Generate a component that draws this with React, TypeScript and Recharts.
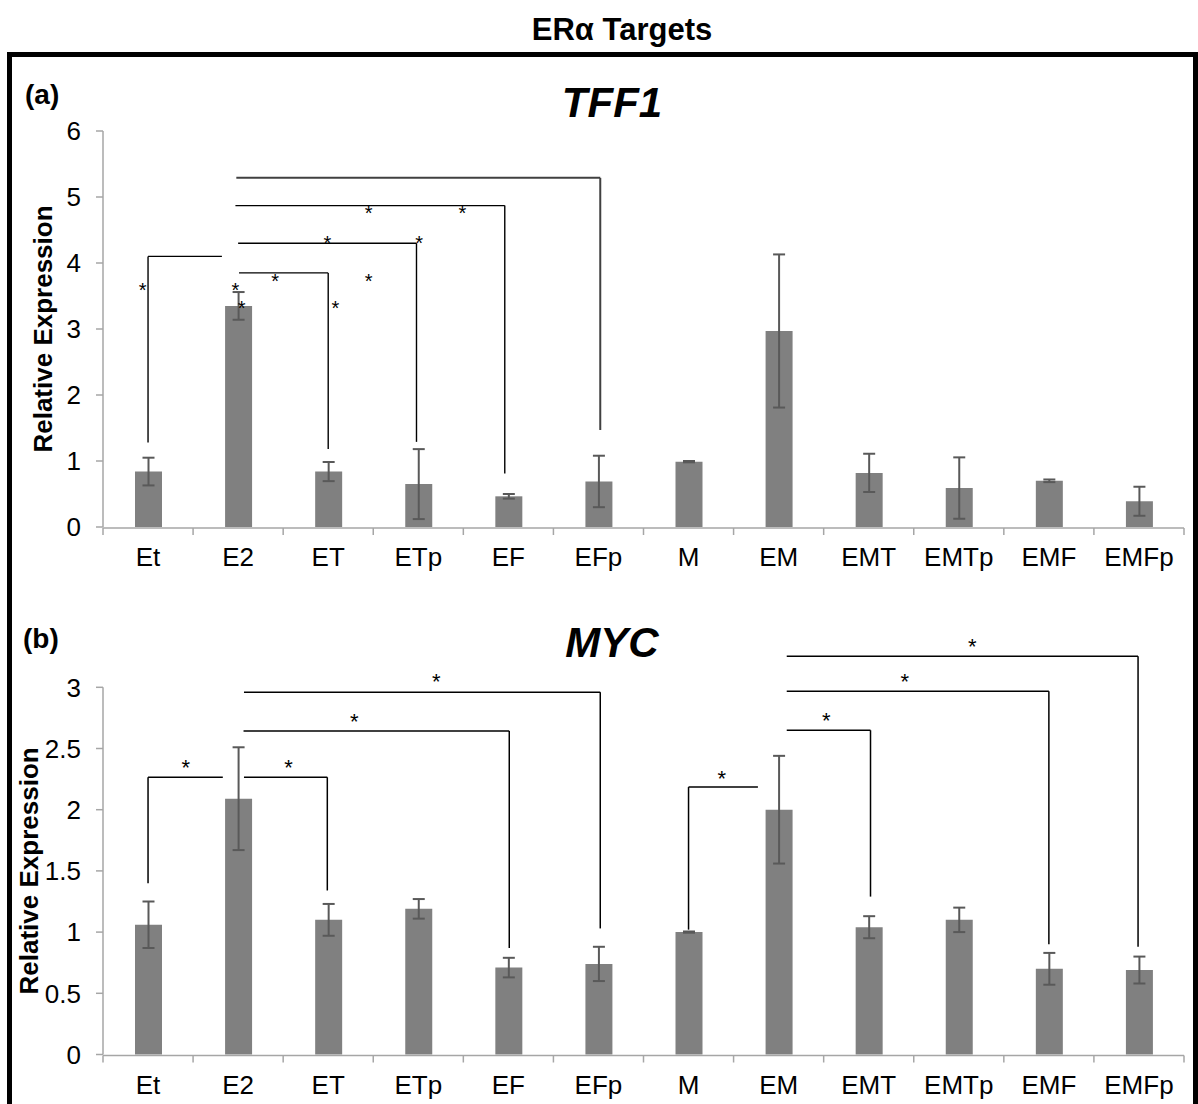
import React from 'react';
import {
  ComposedChart,
  Bar,
  ErrorBar,
  XAxis,
  YAxis,
  ReferenceLine,
  ReferenceDot,
} from 'recharts';

const FONT = "'Liberation Sans', Arial, sans-serif";

// ---- data ----
const categories = ['Et', 'E2', 'ET', 'ETp', 'EF', 'EFp', 'M', 'EM', 'EMT', 'EMTp', 'EMF', 'EMFp'];

const tff1Values = [0.84, 3.35, 0.84, 0.65, 0.465, 0.69, 0.99, 2.97, 0.82, 0.59, 0.7, 0.39];
const tff1Errors = [0.21, 0.21, 0.145, 0.53, 0.035, 0.39, 0.01, 1.16, 0.29, 0.465, 0.02, 0.22];

const mycValues = [1.06, 2.09, 1.1, 1.19, 0.71, 0.74, 1.0, 2.0, 1.04, 1.1, 0.7, 0.69];
const mycErrors = [0.19, 0.42, 0.13, 0.08, 0.08, 0.14, 0.005, 0.44, 0.09, 0.1, 0.13, 0.11];

const tff1Ticks = [0, 1, 2, 3, 4, 5, 6];
const mycTicks = [0, 0.5, 1, 1.5, 2, 2.5, 3];
const boundaryTicks = [0, 1, 2, 3, 4, 5, 6, 7, 8, 9, 10, 11, 12];

// significance brackets: polylines in (category-index units, value units)
const tff1Brackets: number[][][] = [
  [[0.5, 1.28], [0.5, 4.1], [1.32, 4.1]],
  [[1.51, 3.85], [2.5, 3.85], [2.5, 1.18]],
  [[1.5, 4.3], [3.48, 4.3], [3.48, 1.29]],
  [[1.47, 4.87], [4.46, 4.87], [4.46, 0.81]],
  [[1.48, 5.29], [5.52, 5.29], [5.52, 1.47]],
];
const tff1Stars: number[][] = [
  [0.44, 3.66], [1.47, 3.66], [1.54, 3.39], [1.91, 3.8], [2.58, 3.39],
  [2.95, 3.8], [2.49, 4.38], [3.51, 4.38], [2.95, 4.82], [3.99, 4.82],
];

const mycBrackets: number[][][] = [
  [[0.5, 1.4], [0.5, 2.265], [1.33, 2.265]],
  [[1.565, 2.265], [2.49, 2.265], [2.49, 1.34]],
  [[1.56, 2.643], [4.51, 2.643], [4.51, 0.87]],
  [[1.565, 2.96], [5.52, 2.96], [5.52, 1.03]],
  [[6.5, 1.02], [6.5, 2.185], [7.27, 2.185]],
  [[7.59, 2.649], [8.52, 2.649], [8.52, 1.29]],
  [[7.59, 2.967], [10.5, 2.967], [10.5, 0.9]],
  [[7.59, 3.253], [11.49, 3.253], [11.49, 0.88]],
];
const mycStars: number[][] = [
  [0.92, 2.387], [2.06, 2.387], [2.79, 2.76], [3.7, 3.087],
  [6.87, 2.3], [8.03, 2.77], [8.9, 3.087], [9.65, 3.38],
];

const tff1Rows = categories.map((name, i) => ({ name, value: tff1Values[i], err: tff1Errors[i] }));
const mycRows = categories.map((name, i) => ({ name, value: mycValues[i], err: mycErrors[i] }));

const catPos = (row: any) => categories.indexOf(row.name) + 0.5;

const AXIS_GRAY = '#a6a6a6';

type PanelProps = {
  top: number;
  height: number;
  margin: { top: number; right: number; bottom: number; left: number };
  rows: any[];
  yDomain: [number, number];
  yTicks: number[];
  brackets: number[][][];
  stars: number[][];
  labelX: number;
  starSize: number;
  bracketColor: (i: number) => string;
  bracketWidth: (i: number) => number;
};

function Panel(p: PanelProps) {
  const yLabel = (props: any) => {
    const vb = props.viewBox || { x: 0, y: 0, width: 0, height: 0 };
    const cy = vb.y + vb.height / 2;
    return (
      <text
        x={p.labelX}
        y={cy}
        transform={`rotate(-90 ${p.labelX} ${cy})`}
        textAnchor="middle"
        fontSize={26}
        fontWeight="bold"
        fontFamily={FONT}
        fill="#000"
      >
        Relative Expression
      </text>
    );
  };

  const starShape = (props: any) => (
    <text
      x={props.cx}
      y={props.cy + p.starSize * 0.58}
      textAnchor="middle"
      fontSize={p.starSize}
      fontFamily={FONT}
      fill="#000"
    >
      *
    </text>
  );

  const segments: { key: string; a: number[]; b: number[]; color: string; w: number }[] = [];
  p.brackets.forEach((pts, bi) => {
    for (let k = 0; k < pts.length - 1; k++) {
      segments.push({ key: `b${bi}-${k}`, a: pts[k], b: pts[k + 1], color: p.bracketColor(bi), w: p.bracketWidth(bi) });
    }
  });

  return (
    <div style={{ position: 'absolute', left: 0, top: p.top }}>
      <ComposedChart width={1198} height={p.height} data={p.rows} margin={p.margin}>
        <XAxis
          xAxisId="num"
          dataKey={catPos}
          type="number"
          domain={[0, 12]}
          ticks={boundaryTicks}
          interval={0}
          allowDataOverflow
          height={1}
          tickSize={7}
          tickFormatter={() => ''}
          axisLine={{ stroke: AXIS_GRAY, strokeWidth: 1.5 }}
          tickLine={{ stroke: AXIS_GRAY, strokeWidth: 1.5 }}
        />
        <XAxis
          xAxisId="cat"
          dataKey="name"
          type="category"
          interval={0}
          height={1}
          tickSize={0}
          tickMargin={21}
          axisLine={false}
          tickLine={false}
          tick={{ fontSize: 26, fill: '#000', fontFamily: FONT }}
        />
        <YAxis
          width={60}
          domain={p.yDomain}
          ticks={p.yTicks}
          interval={0}
          tickSize={7}
          tickMargin={15}
          axisLine={{ stroke: AXIS_GRAY, strokeWidth: 1.5 }}
          tickLine={{ stroke: AXIS_GRAY, strokeWidth: 1.5 }}
          tick={{ fontSize: 26, fill: '#000', fontFamily: FONT }}
          label={{ content: yLabel }}
        />
        <Bar xAxisId="cat" dataKey="value" fill="#808080" barSize={27} isAnimationActive={false}>
          <ErrorBar dataKey="err" direction="y" width={6} stroke="#595959" strokeWidth={2} />
        </Bar>
        {segments.map((s) => (
          <ReferenceLine
            key={s.key}
            xAxisId="num"
            segment={[{ x: s.a[0], y: s.a[1] }, { x: s.b[0], y: s.b[1] }]}
            stroke={s.color}
            strokeWidth={s.w}
            ifOverflow="visible"
          />
        ))}
        {p.stars.map((s, i) => (
          <ReferenceDot
            key={`s${i}`}
            xAxisId="num"
            x={s[0]}
            y={s[1]}
            r={0}
            ifOverflow="visible"
            shape={starShape}
          />
        ))}
      </ComposedChart>
    </div>
  );
}

export default function App() {
  return (
    <div
      style={{
        position: 'absolute',
        left: 0,
        top: 0,
        width: 1198,
        height: 1104,
        overflow: 'hidden',
        background: '#fff',
      }}
    >
      <svg width={1198} height={1104} style={{ position: 'absolute', left: 0, top: 0 }}>
        <text x={622} y={40} textAnchor="middle" fontSize={31} fontWeight="bold" fontFamily={FONT} fill="#000">
          ERα Targets
        </text>
        <path d="M9.5 1120 V54.5 H1195.5 V1120" stroke="#000" strokeWidth={5} fill="none" />
        <text x={25} y={104} fontSize={28} fontWeight="bold" fontFamily={FONT} fill="#000">
          (a)
        </text>
        <text x={612} y={117} textAnchor="middle" fontSize={42} fontWeight="bold" fontStyle="italic" fontFamily={FONT} fill="#000">
          TFF1
        </text>
        <text x={23} y={647.5} fontSize={28} fontWeight="bold" fontFamily={FONT} fill="#000">
          (b)
        </text>
        <text x={612} y={657} textAnchor="middle" fontSize={42} fontWeight="bold" fontStyle="italic" fontFamily={FONT} fill="#000">
          MYC
        </text>
      </svg>
      <Panel
        top={0}
        height={600}
        margin={{ top: 131, right: 14, bottom: 71, left: 43 }}
        rows={tff1Rows}
        yDomain={[0, 6]}
        yTicks={tff1Ticks}
        brackets={tff1Brackets}
        stars={tff1Stars}
        labelX={52}
        starSize={20}
        bracketColor={(i) => (i === 4 ? '#404040' : '#000')}
        bracketWidth={(i) => (i === 4 ? 2 : 1.4)}
      />
      <Panel
        top={560}
        height={544}
        margin={{ top: 127.3, right: 14, bottom: 47.5, left: 43 }}
        rows={mycRows}
        yDomain={[0, 3]}
        yTicks={mycTicks}
        brackets={mycBrackets}
        stars={mycStars}
        labelX={38}
        starSize={22}
        bracketColor={() => '#000'}
        bracketWidth={() => 1.5}
      />
    </div>
  );
}
